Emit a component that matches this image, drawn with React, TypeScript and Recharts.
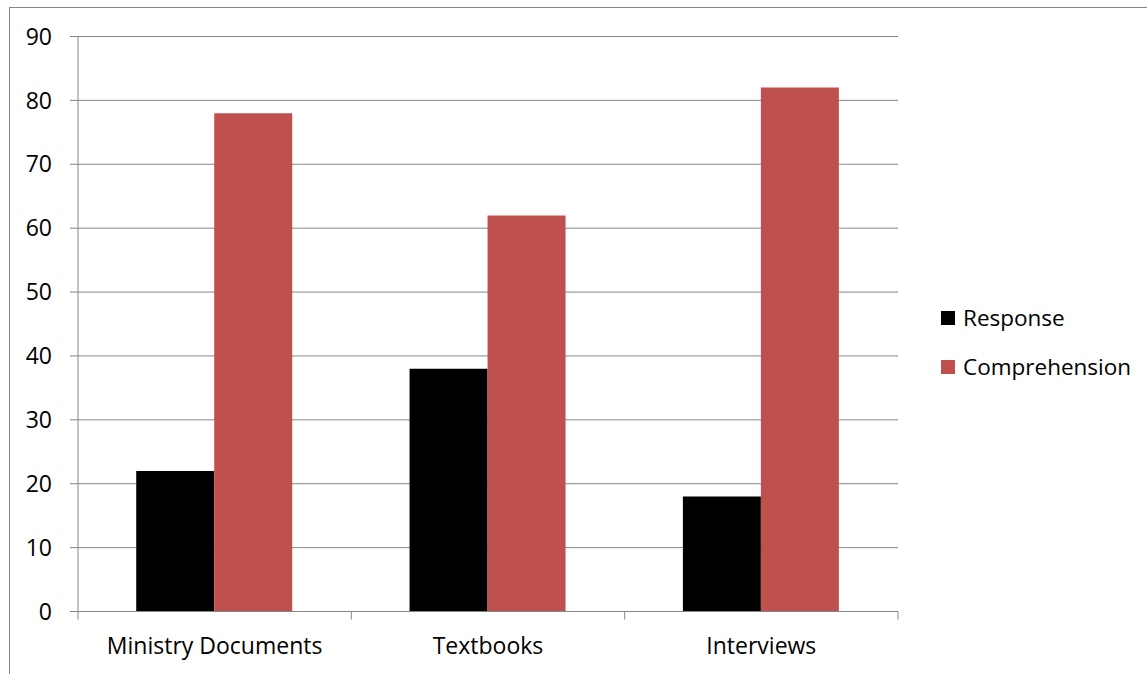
import React from "react";
import {
  BarChart,
  Bar,
  XAxis,
  YAxis,
  CartesianGrid,
  Legend,
} from "recharts";

const categories = ["Ministry Documents", "Textbooks", "Interviews"];
const seriesNames = ["Response", "Comprehension"];
const responseValues = [22, 38, 18];
const comprehensionValues = [78, 62, 82];
const yTicks = [0, 10, 20, 30, 40, 50, 60, 70, 80, 90];

const data = categories.map((name, i) => ({
  name,
  Response: responseValues[i],
  Comprehension: comprehensionValues[i],
}));

const FONT = "'Open Sans', sans-serif";
const GRID = "#868686";
const RED = "#C0504D";

// category label plus tick marks on the band edges (Excel style)
function CategoryTick(props: any) {
  const { x, y, payload, index, visibleTicksCount } = props;
  const half = payload.offset || 0;
  const last = index === visibleTicksCount - 1;
  return (
    <g>
      <line x1={x - half} x2={x - half} y1={y} y2={y + 8} stroke={GRID} />
      {last && <line x1={x + half} x2={x + half} y1={y} y2={y + 8} stroke={GRID} />}
      <text
        x={x}
        y={y + 42.5}
        textAnchor="middle"
        fontFamily={FONT}
        fontSize={23}
        fill="#000"
      >
        {payload.value}
      </text>
    </g>
  );
}

function LegendBox(props: any) {
  const items = [...(props.payload || [])].sort(
    (a: any, b: any) => seriesNames.indexOf(a.value) - seriesNames.indexOf(b.value)
  );
  return (
    <div style={{ fontFamily: FONT, fontSize: 22.5, color: "#000" }}>
      {items.map((it: any) => (
        <div
          key={it.value}
          style={{ display: "flex", alignItems: "center", height: 24, marginBottom: 25 }}
        >
          <span
            style={{
              display: "inline-block",
              width: 14,
              height: 14,
              background: it.color,
              marginRight: 8,
            }}
          />
          <span style={{ lineHeight: "24px", whiteSpace: "nowrap" }}>{it.value}</span>
        </div>
      ))}
    </div>
  );
}

export default function App() {
  return (
    <div
      style={{
        position: "fixed",
        left: 0,
        top: 0,
        width: 1147,
        height: 674,
        overflow: "hidden",
        background: "#fff",
      }}
    >
      <div
        style={{
          position: "absolute",
          left: 9,
          top: 7,
          width: 1200,
          height: 700,
          border: `1px solid ${GRID}`,
        }}
      />
      <div style={{ position: "absolute", left: 0, top: 0 }}>
        <BarChart
          width={1147}
          height={674}
          data={data}
          margin={{ top: 36.5, right: 49, left: 8, bottom: 12.5 }}
          barCategoryGap="21.3%"
          barGap={0}
        >
          <CartesianGrid vertical={false} stroke={GRID} strokeWidth={1} />
          <XAxis
            dataKey="name"
            axisLine={{ stroke: GRID }}
            tickLine={false}
            tickSize={0}
            tickMargin={0}
            height={50}
            interval={0}
            tick={CategoryTick}
          />
          <YAxis
            domain={[0, 90]}
            ticks={yTicks}
            width={70}
            axisLine={{ stroke: GRID }}
            tickLine={{ stroke: GRID }}
            tickSize={8}
            tickMargin={18}
            tick={{ fontFamily: FONT, fontSize: 23, fill: "#000" }}
          />
          <Legend
            layout="vertical"
            align="right"
            verticalAlign="top"
            content={LegendBox}
            wrapperStyle={{ left: 941, top: 306, width: 200 }}
          />
          {seriesNames.map((s, i) => (
            <Bar
              key={s}
              dataKey={s}
              fill={i === 0 ? "#000000" : RED}
              isAnimationActive={false}
            />
          ))}
        </BarChart>
      </div>
    </div>
  );
}
